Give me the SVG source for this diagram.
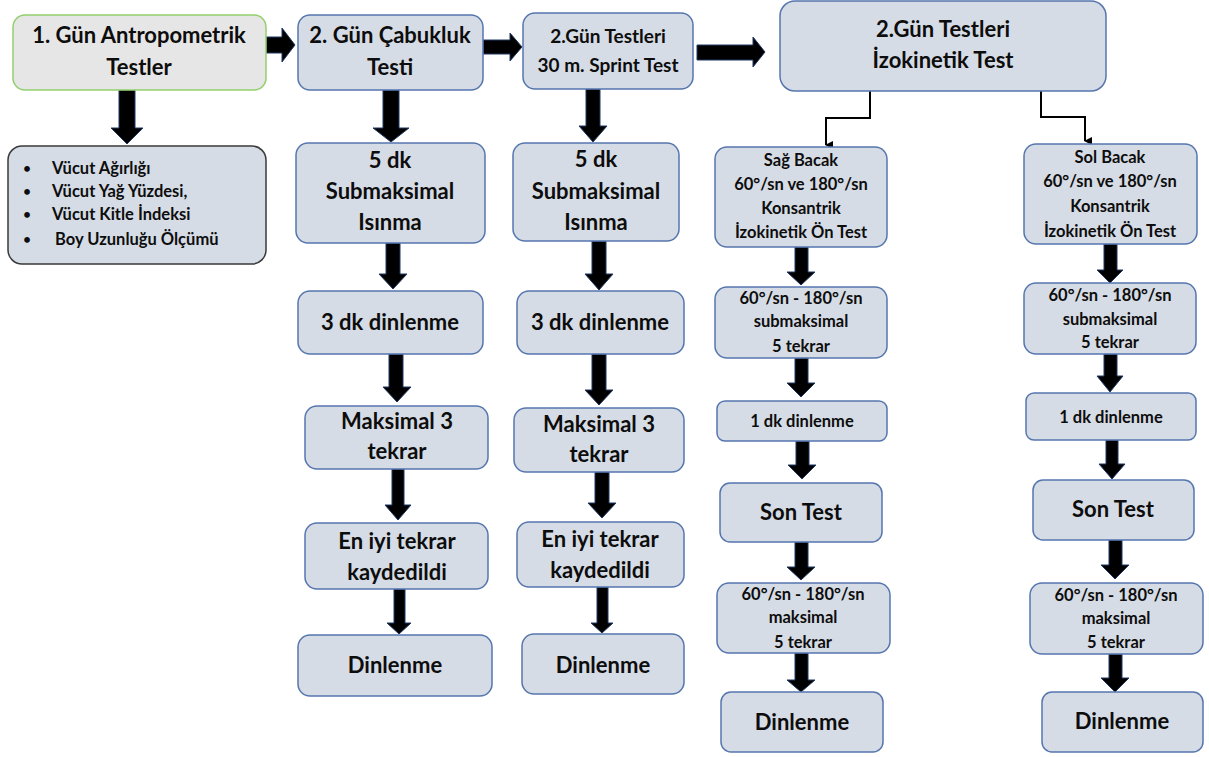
<svg xmlns="http://www.w3.org/2000/svg" width="1209" height="757" viewBox="0 0 1209 757">
<style>
.bx{fill:#d6dce5;stroke:#5676ae;stroke-width:1.5}
.g{fill:#e7e6e6;stroke:#92cf6c;stroke-width:1.5}
.ls{fill:#d6dce5;stroke:#3a3a3a;stroke-width:1.5}
.ar{fill:#000;stroke:#1f3864;stroke-width:1}
.el{fill:none;stroke:#000;stroke-width:2}
text{font-family:Lato,"Liberation Sans",sans-serif;font-weight:bold;fill:#0d0d0d;text-anchor:middle}
.L{font-size:22px}
.M{font-size:19px}
.S{font-size:16.5px}
.T{font-size:16.5px;text-anchor:start}
.B{font-size:13px;text-anchor:middle}
</style>
<defs>
<marker id="ah" markerWidth="8" markerHeight="8" refX="4" refY="7" orient="auto" markerUnits="userSpaceOnUse" viewBox="0 0 8 8">
<path d="M0,0 L8,0 L4,8 Z" fill="#000"/>
</marker>
</defs>
<g id="connectors">
<polygon class="ar" points="266,37 282,37 282,28 295,45 282,62 282,53 266,53"/>
<polygon class="ar" points="483,40 510,40 510,33 522,47 510,61 510,54 483,54"/>
<polygon class="ar" points="697,45 753,45 753,37 765,52 753,67 753,60 697,60"/>
<polygon class="ar" points="119,90 135,90 135,128 143,128 127,144 111,128 119,128"/>
<polygon class="ar" points="383,90 399,90 399,128 409,128 391,142 373,128 383,128"/>
<polygon class="ar" points="586,89 600,89 600,126 607,126 593,142 579,126 586,126"/>
<polygon class="ar" points="386,243 400,243 400,274 407,274 393,289 379,274 386,274"/>
<polygon class="ar" points="592,241 606,241 606,274 613,274 599,290 585,274 592,274"/>
<polygon class="ar" points="389,354 403,354 403,387 411,387 397,402 383,387 389,387"/>
<polygon class="ar" points="592,354 606,354 606,390 613,390 599,405 585,390 592,390"/>
<polygon class="ar" points="392,469 404,469 404,505 411,505 398,520 385,505 392,505"/>
<polygon class="ar" points="595,472 609,472 609,503 616,503 602,518 588,503 595,503"/>
<polygon class="ar" points="394,589 405,589 405,623 411,623 399,634 387,623 394,623"/>
<polygon class="ar" points="597,587 608,587 608,623 613,623 602,633 591,623 597,623"/>
<polygon class="ar" points="795,247 808,247 808,272 815,272 801,285 787,272 795,272"/>
<polygon class="ar" points="795,358 808,358 808,383 815,383 801,397 787,383 795,383"/>
<polygon class="ar" points="796,441 809,441 809,465 816,465 802,479 788,465 796,465"/>
<polygon class="ar" points="795,542 808,542 808,567 815,567 801,580 787,567 795,567"/>
<polygon class="ar" points="795,653 808,653 808,680 815,680 801,692 787,680 795,680"/>
<polygon class="ar" points="1104,244 1117,244 1117,270 1123,270 1110,283 1097,270 1104,270"/>
<polygon class="ar" points="1104,354 1117,354 1117,376 1123,376 1110,392 1097,376 1104,376"/>
<polygon class="ar" points="1106,440 1118,440 1118,464 1125,464 1112,479 1099,464 1106,464"/>
<polygon class="ar" points="1109,540 1122,540 1122,565 1129,565 1115,579 1101,565 1109,565"/>
<polygon class="ar" points="1109,654 1122,654 1122,678 1129,678 1115,692 1101,678 1109,678"/>
<polyline class="el" points="870,91 870,118 826,118 826,145" marker-end="url(#ah)"/>
<polyline class="el" points="1041,91 1041,117 1085,117 1085,141" marker-end="url(#ah)"/>
</g>
<g id="n1"><rect class="g" x="13" y="15" width="253" height="75" rx="12"/><text class="L" x="139" y="43">1. Gün Antropometrik</text><text class="L" x="139" y="75">Testler</text></g>
<g id="n1list"><rect class="ls" x="8" y="146" width="258" height="118" rx="14"/>
<text class="B" x="27" y="173">•</text><text class="T" x="52" y="174">Vücut Ağırlığı</text>
<text class="B" x="27" y="196">•</text><text class="T" x="52" y="197">Vücut Yağ Yüzdesi,</text>
<text class="B" x="27" y="219">•</text><text class="T" x="52" y="220">Vücut Kitle İndeksi</text>
<text class="B" x="27" y="244">•</text><text class="T" x="55" y="245">Boy Uzunluğu Ölçümü</text></g>
<g id="n2"><rect class="bx" x="298" y="15" width="185" height="75" rx="12"/><text class="L" x="390" y="43">2. Gün Çabukluk</text><text class="L" x="390" y="75">Testi</text></g>
<g id="n3"><rect class="bx" x="523" y="13" width="170" height="76" rx="12"/><text class="M" x="608" y="43">2.Gün Testleri</text><text class="M" x="608" y="72">30 m. Sprint Test</text></g>
<g id="n4"><rect class="bx" x="780" y="1" width="326" height="90" rx="15"/><text class="L" x="943" y="37">2.Gün Testleri</text><text class="L" x="943" y="68">İzokinetik Test</text></g>
<g id="c2a"><rect class="bx" x="296" y="143" width="189" height="100" rx="12"/><text class="L" x="390" y="168">5 dk</text><text class="L" x="390" y="199">Submaksimal</text><text class="L" x="390" y="230">Isınma</text></g>
<g id="c2b"><rect class="bx" x="298" y="291" width="185" height="63" rx="12"/><text class="L" x="390" y="330">3 dk dinlenme</text></g>
<g id="c2c"><rect class="bx" x="305" y="406" width="183" height="63" rx="12"/><text class="L" x="397" y="429">Maksimal 3</text><text class="L" x="397" y="459">tekrar</text></g>
<g id="c2d"><rect class="bx" x="305" y="523" width="183" height="66" rx="12"/><text class="L" x="397" y="549">En iyi tekrar</text><text class="L" x="397" y="580">kaydedildi</text></g>
<g id="c2e"><rect class="bx" x="298" y="635" width="194" height="61" rx="12"/><text class="L" x="395" y="673">Dinlenme</text></g>
<g id="c3a"><rect class="bx" x="513" y="143" width="166" height="98" rx="12"/><text class="L" x="596" y="167">5 dk</text><text class="L" x="596" y="199">Submaksimal</text><text class="L" x="596" y="230">Isınma</text></g>
<g id="c3b"><rect class="bx" x="517" y="291" width="167" height="63" rx="12"/><text class="L" x="600" y="330">3 dk dinlenme</text></g>
<g id="c3c"><rect class="bx" x="514" y="408" width="170" height="64" rx="12"/><text class="L" x="599" y="432">Maksimal 3</text><text class="L" x="599" y="462">tekrar</text></g>
<g id="c3d"><rect class="bx" x="517" y="522" width="167" height="65" rx="12"/><text class="L" x="600" y="547">En iyi tekrar</text><text class="L" x="600" y="578">kaydedildi</text></g>
<g id="c3e"><rect class="bx" x="522" y="634" width="162" height="60" rx="12"/><text class="L" x="603" y="673">Dinlenme</text></g>
<g id="r1"><rect class="bx" x="715" y="147" width="172" height="100" rx="12"/><text class="S" x="801" y="166">Sağ Bacak</text><text class="S" x="801" y="190">60°/sn ve 180°/sn</text><text class="S" x="801" y="214">Konsantrik</text><text class="S" x="801" y="238">İzokinetik Ön Test</text></g>
<g id="r2"><rect class="bx" x="715" y="287" width="172" height="71" rx="12"/><text class="S" x="801" y="304">60°/sn - 180°/sn</text><text class="S" x="801" y="327">submaksimal</text><text class="S" x="801" y="352">5 tekrar</text></g>
<g id="r3"><rect class="bx" x="717" y="401" width="170" height="40" rx="8"/><text class="S" x="802" y="427">1 dk dinlenme</text></g>
<g id="r4"><rect class="bx" x="720" y="483" width="162" height="59" rx="10"/><text class="L" x="801" y="520">Son Test</text></g>
<g id="r5"><rect class="bx" x="717" y="583" width="173" height="70" rx="12"/><text class="S" x="803" y="600">60°/sn - 180°/sn</text><text class="S" x="803" y="623">maksimal</text><text class="S" x="803" y="648">5 tekrar</text></g>
<g id="r6"><rect class="bx" x="721" y="692" width="162" height="60" rx="10"/><text class="L" x="802" y="730">Dinlenme</text></g>
<g id="l1"><rect class="bx" x="1024" y="144" width="173" height="100" rx="12"/><text class="S" x="1110" y="163">Sol Bacak</text><text class="S" x="1110" y="187">60°/sn ve 180°/sn</text><text class="S" x="1110" y="212">Konsantrik</text><text class="S" x="1110" y="237">İzokinetik Ön Test</text></g>
<g id="l2"><rect class="bx" x="1024" y="283" width="172" height="71" rx="12"/><text class="S" x="1110" y="301">60°/sn - 180°/sn</text><text class="S" x="1110" y="325">submaksimal</text><text class="S" x="1110" y="348">5 tekrar</text></g>
<g id="l3"><rect class="bx" x="1026" y="393" width="170" height="47" rx="8"/><text class="S" x="1111" y="423">1 dk dinlenme</text></g>
<g id="l4"><rect class="bx" x="1033" y="480" width="161" height="60" rx="10"/><text class="L" x="1113" y="517">Son Test</text></g>
<g id="l5"><rect class="bx" x="1030" y="583" width="173" height="71" rx="12"/><text class="S" x="1116" y="601">60°/sn - 180°/sn</text><text class="S" x="1116" y="624">maksimal</text><text class="S" x="1116" y="648">5 tekrar</text></g>
<g id="l6"><rect class="bx" x="1042" y="692" width="161" height="60" rx="10"/><text class="L" x="1122" y="729">Dinlenme</text></g>
</svg>
